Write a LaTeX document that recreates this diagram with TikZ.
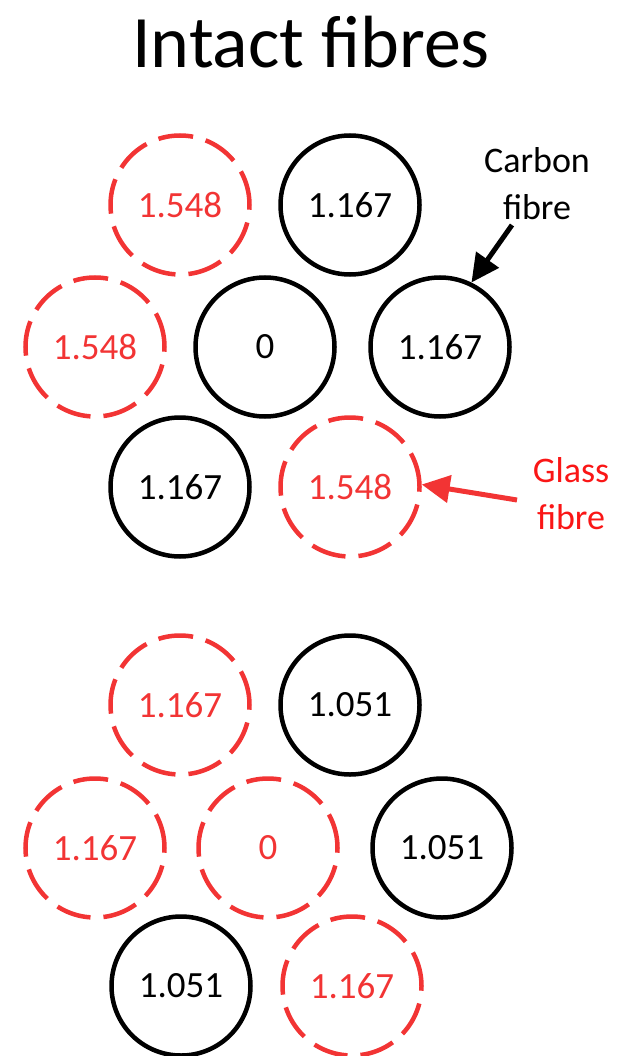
\documentclass[tikz,border=0pt]{standalone}
\usepackage{fontspec}
\setmainfont{Carlito}
\usetikzlibrary{arrows.meta}

\definecolor{glassred}{RGB}{242,52,52}
\definecolor{labelred}{RGB}{250,22,22}

\begin{document}
\begin{tikzpicture}[x=1pt,y=-1pt,
	carbon/.style={draw=black,circle,line width=4.5pt,minimum size=139pt,inner sep=0pt,font=\fontsize{37}{40}\selectfont},
	glass/.style={carbon,draw=glassred,text=glassred,dash pattern=on 35pt off 13pt},
	ptr/.style={line width=5pt,-{Triangle[length=28pt,width=27pt]}},
	lab/.style={align=center,inner sep=2pt,font=\fontsize{36}{47}\selectfont}]
\useasboundingbox (0,0) rectangle (622,1056);

\node[anchor=base,font=\fontsize{74}{80}\selectfont] (title) at (311,68) {Intact fibres};

% carbon fibre in the middle
\node[glass] (A1) at (180,205) {1.548};
\node[carbon] (A2) at (350,205) {1.167};
\node[glass] (A3) at (95,347) {1.548};
\node[carbon] (A4) at (265,347) {0};
\node[carbon] (A5) at (440,347) {1.167};
\node[carbon] (A6) at (180,487) {1.167};
\node[glass] (A7) at (350,487) {1.548};

\node[lab] (cflab) at (537,184) {Carbon\\fibre};
\node[lab,text=labelred] (gflab) at (571,494) {Glass\\fibre};
\coordinate (cftail) at (512,225);
\coordinate (gftail) at (517,500);

\draw[ptr] (cftail) -- (A5.64);
\draw[ptr,glassred] (gftail) -- (A7.2);

% glass fibre in the middle
\node[glass] (B1) at (180,705) {1.167};
\node[carbon] (B2) at (350,705) {1.051};
\node[glass] (B3) at (95,848) {1.167};
\node[glass] (B4) at (268,848) {0};
\node[carbon] (B5) at (442,848) {1.051};
\node[carbon] (B6) at (181,986) {1.051};
\node[glass] (B7) at (352,986) {1.167};
\end{tikzpicture}
\end{document}
